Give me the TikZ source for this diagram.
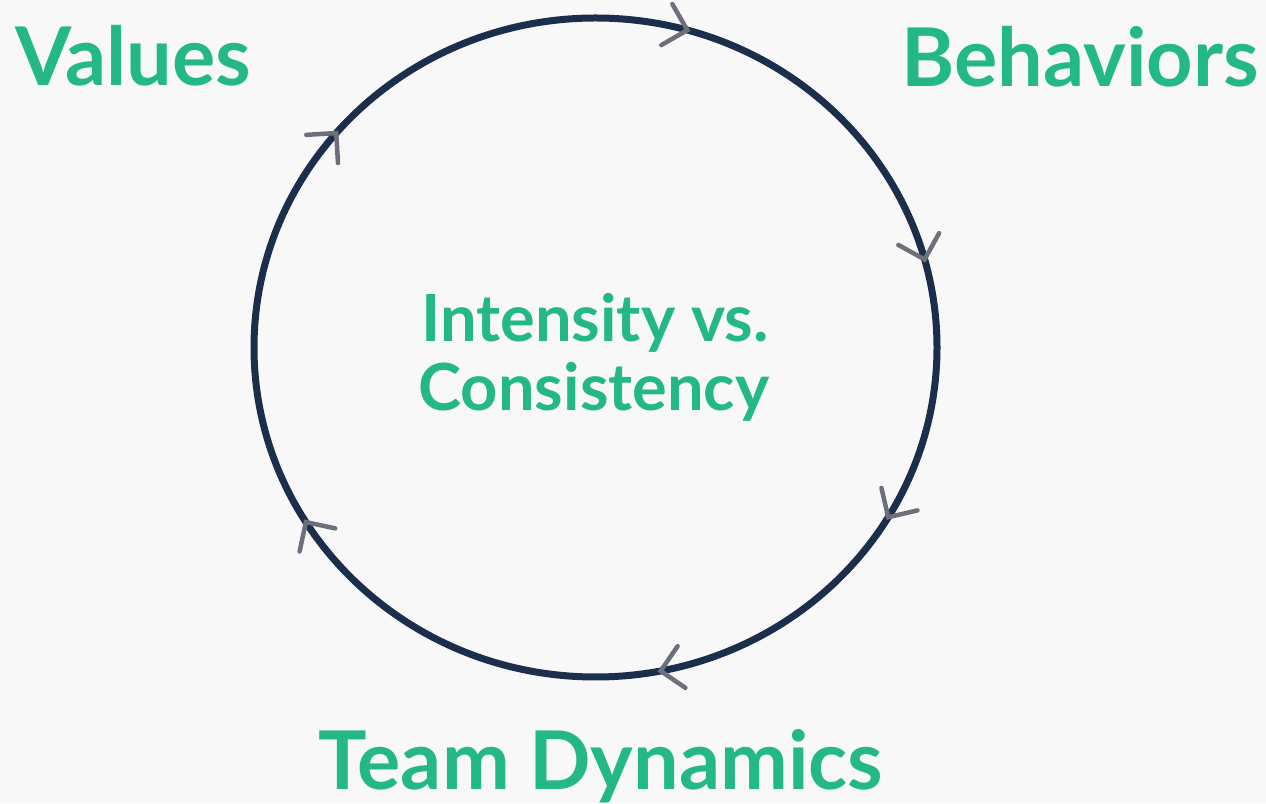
\documentclass[tikz,border=0pt]{standalone}
\usepackage{fontspec}
\setmainfont{Lato}
\usetikzlibrary{calc}
\definecolor{bgpaper}{HTML}{F8F8F8}
\definecolor{leafgreen}{HTML}{24B884}
\definecolor{ringnavy}{HTML}{1B2E4B}
\definecolor{chevgray}{HTML}{6C707A}
\begin{document}
\begin{tikzpicture}[x=1pt,y=1pt,
  title/.style={text=leafgreen,font=\bfseries\fontsize{81}{83}\selectfont,inner sep=0pt},
  hub/.style={text=leafgreen,font=\bfseries\fontsize{65}{69}\selectfont,inner sep=0pt},
  ring/.style={draw=ringnavy,line width=7pt},
  chevron/.style={draw=chevgray,line width=4.5pt,line cap=round,line join=miter}]
  % canvas
  \fill[bgpaper] (0,0) rectangle (1266,803);
  \useasboundingbox (0,0) rectangle (1266,803);
  % the cycle
  \coordinate (hubc) at (595.5,455.5);
  \draw[ring] (hubc) ellipse [x radius=341.5, y radius=329.5];
  % clockwise chevrons sitting on the ring
  \foreach \t [count=\i] in {74.4,15.5,-31,-79,-148,139.4}{
    \pgfmathsetmacro\phi{atan2(-329.5*cos(\t),341.5*sin(\t))}
    \coordinate (tip\i) at ($(hubc)+(\t:341.5 and 329.5)$);
    \draw[chevron] ($(tip\i)+(\phi+135:30)$) -- (tip\i) -- ($(tip\i)+(\phi-135:30)$);
  }
  % labels
  \node[title,anchor=base west] (values) at (15,717) {Values};
  \node[title,anchor=base east] (behaviors) at (1259,716) {Behaviors};
  \node[title,anchor=base] (team) at (601,13) {Team Dynamics};
  \node[hub,anchor=base] (hub1) at (595,461) {Intensity vs.};
  \node[hub,anchor=base] (hub2) at (594,392) {Consistency};
\end{tikzpicture}
\end{document}
